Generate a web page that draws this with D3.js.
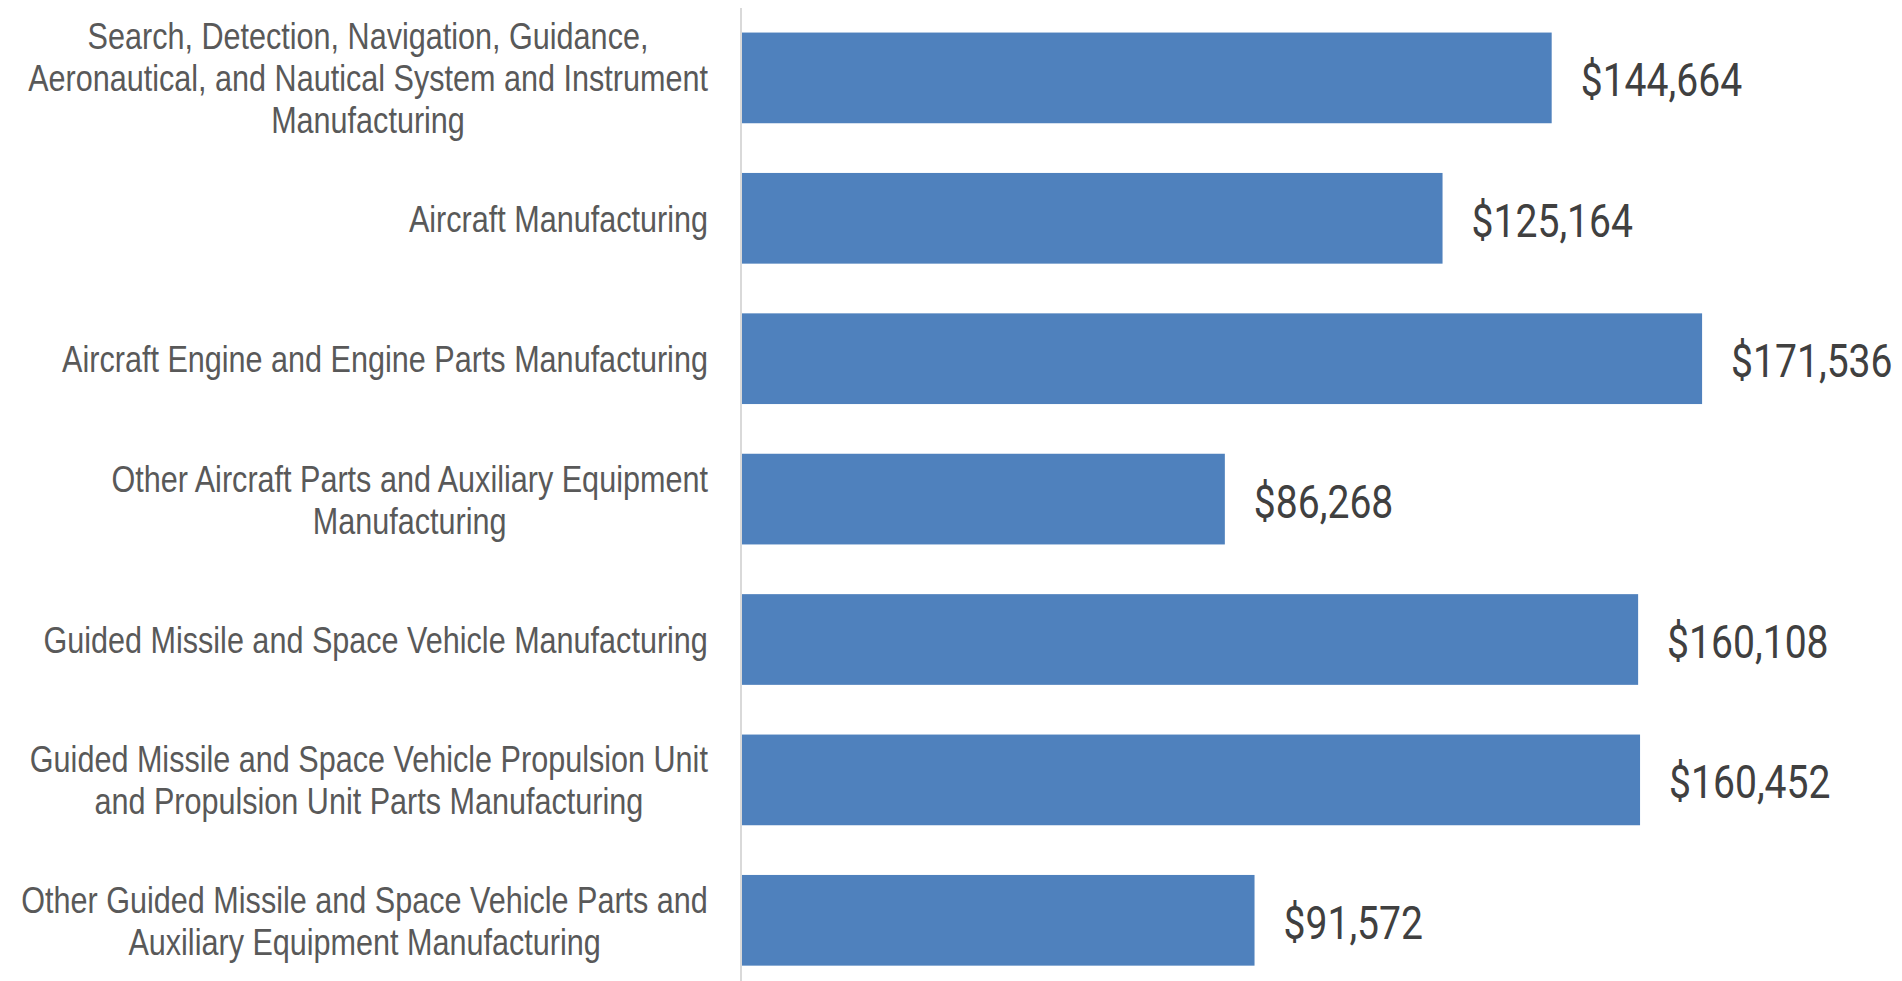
<!DOCTYPE html>
<html>
<head>
<meta charset="utf-8">
<script src="https://cdn.jsdelivr.net/npm/d3@7"></script>
<style>
  html, body { margin: 0; padding: 0; background: #ffffff; }
  svg { display: block; }
</style>
</head>
<body>
<svg id="chart" width="1902" height="981"></svg>
<script>
const categories = [
  "Search, Detection, Navigation, Guidance,\nAeronautical, and Nautical System and Instrument\nManufacturing",
  "Aircraft Manufacturing",
  "Aircraft Engine and Engine Parts Manufacturing",
  "Other Aircraft Parts and Auxiliary Equipment\nManufacturing",
  "Guided Missile and Space Vehicle Manufacturing",
  "Guided Missile and Space Vehicle Propulsion Unit\nand Propulsion Unit Parts Manufacturing",
  "Other Guided Missile and Space Vehicle Parts and\nAuxiliary Equipment Manufacturing"
];
const values = [144664, 125164, 171536, 86268, 160108, 160452, 91572];
const xDomain = [0, 200000];

const W = 1902, H = 981;
const plot = { left: 742, right: 1861.4, top: 7.7, bottom: 990.5 };

const svg = d3.select("#chart");

const x = d3.scaleLinear().domain(xDomain).range([plot.left, plot.right]);
const y = d3.scaleBand()
  .domain(categories)
  .range([plot.top, plot.bottom])
  .paddingInner(0.354)
  .paddingOuter(0.177);

const data = categories.map((c, i) => ({ cat: c, val: values[i] }));

// bars
svg.append("g").selectAll("rect")
  .data(data).join("rect")
  .attr("x", x(0))
  .attr("y", d => y(d.cat))
  .attr("width", d => x(d.val) - x(0))
  .attr("height", y.bandwidth())
  .attr("fill", "#4f81bd");

// vertical category axis line
svg.append("line")
  .attr("x1", x(0) - 1).attr("x2", x(0) - 1)
  .attr("y1", 8).attr("y2", H)
  .attr("stroke", "#d9d9d9")
  .attr("stroke-width", 2);

// category labels (Arial-metric font, horizontally condensed like Arial Narrow)
const fmt = d3.format(",");
const labelFont = "'Liberation Sans', Arial, sans-serif";
const labelSize = 37.3, narrow = 0.82;
const lineH = 42;
const labelRight = 708;
const lg = svg.append("g");
data.forEach(d => {
  const lines = d.cat.split("\n");
  const cy = y(d.cat) + y.bandwidth() / 2;
  const tmp = lg.append("text").attr("font-family", labelFont).attr("font-size", labelSize);
  const widths = lines.map(l => { tmp.text(l); return tmp.node().getComputedTextLength(); });
  tmp.remove();
  const maxW = d3.max(widths) * narrow;
  const cx = labelRight - maxW / 2;
  const g = lg.append("g").attr("transform", `translate(${cx},${cy}) scale(${narrow},1)`);
  const t = g.append("text")
    .attr("text-anchor", "middle")
    .attr("font-family", labelFont)
    .attr("font-size", labelSize)
    .attr("fill", "#595959");
  lines.forEach((l, i) => {
    t.append("tspan")
      .attr("x", 0)
      .attr("y", (i - (lines.length - 1) / 2) * lineH)
      .attr("dy", "0.36em")
      .text(l);
  });
});

// value labels
const valueFont = "Roboto, 'Liberation Sans', sans-serif";
svg.append("g").selectAll("g")
  .data(data).join("g")
  .attr("transform", d => `translate(${x(d.val) + 29},${y(d.cat) + y.bandwidth() / 2}) scale(0.85,1)`)
  .append("text")
  .attr("dy", "0.4em")
  .attr("font-family", valueFont)
  .attr("font-size", 46)
  .attr("fill", "#404040")
  .text(d => "$" + fmt(d.val));
</script>
</body>
</html>
